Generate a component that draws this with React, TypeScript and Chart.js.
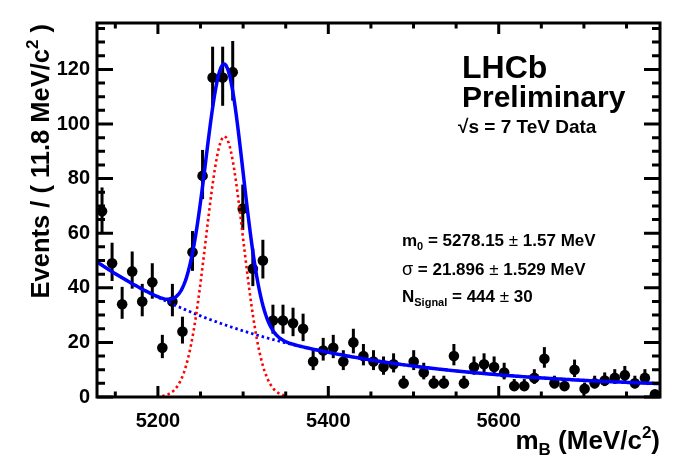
import React, { useEffect, useRef } from "react";
import { Chart, registerables } from "chart.js";

Chart.register(...registerables);

// ---------------- data ----------------
const X_MIN = 5128.5;
const X_MAX = 5789.3;
const BIN_WIDTH = 11.8;
const Y_MAX = 137;

const COUNTS = [
  68, 49, 34, 46, 35, 42, 18, 35, 24, 53,
  81, 117, 117, 119, 69, 47, 50, 28, 28, 27,
  25, 13, 17, 18, 13, 20, 15, 13, 11, 12,
  5, 13, 9, 5, 5, 15, 5, 11, 12, 11,
  9, 4, 4, 7, 14, 5, 4, 10, 3, 5,
  6, 7, 8, 5, 7, 1,
];

const X_TICKS = [5200, 5400, 5600];
const Y_TICKS = [0, 20, 40, 60, 80, 100, 120];

// fit parameters (signal values shown on the plot, background)
const M0 = 5278.15;
const SIGMA = 21.896;
const N_SIGNAL = 444;
const BKG_CONST = 2.5; // events / bin
const BKG_AMP = 47; // events / bin at X_MIN
const BKG_SLOPE = -0.0045; // 1/MeV

const FONT = "'Liberation Sans', Arial, Helvetica, sans-serif";

// ---------------- helpers ----------------
const binCenters = COUNTS.map((_, i) => X_MIN + (i + 0.5) * BIN_WIDTH);
const points = COUNTS.map((c, i) => ({ x: binCenters[i], y: c }));

const sig = (m: number) =>
  ((N_SIGNAL * BIN_WIDTH) / (Math.sqrt(2 * Math.PI) * SIGMA)) *
  Math.exp(-0.5 * ((m - M0) / SIGMA) ** 2);
const bkg = (m: number) => BKG_CONST + BKG_AMP * Math.exp(BKG_SLOPE * (m - X_MIN));

const curveX: number[] = [];
for (let m = X_MIN; m <= X_MAX + 0.01; m += 1.5) curveX.push(m);
const totalCurve = curveX.map((m) => ({ x: m, y: sig(m) + bkg(m) }));
const bkgCurve = curveX.map((m) => ({ x: m, y: bkg(m) }));
const sigCurve = curveX
  .filter((m) => Math.abs(m - M0) < 3.4 * SIGMA)
  .map((m) => ({ x: m, y: sig(m) }));

type Seg = { t: string; size: number; dy?: number; bold?: boolean };

function drawRich(
  ctx: CanvasRenderingContext2D,
  x: number,
  y: number,
  segs: Seg[],
  align: "left" | "right" = "left"
) {
  const fontOf = (s: Seg) =>
    `${s.bold === false ? "" : "bold "}${s.size}px ${FONT}`;
  let w = 0;
  for (const s of segs) {
    ctx.font = fontOf(s);
    w += ctx.measureText(s.t).width;
  }
  let cx = align === "right" ? x - w : x;
  ctx.textAlign = "left";
  ctx.textBaseline = "alphabetic";
  for (const s of segs) {
    ctx.font = fontOf(s);
    ctx.fillText(s.t, cx, y + (s.dy || 0));
    cx += ctx.measureText(s.t).width;
  }
}

const errUp = (n: number) => Math.sqrt(n + 0.25) + 0.5;
const errDown = (n: number) => Math.max(0, Math.sqrt(n + 0.25) - 0.5);

const errorBarPlugin = {
  id: "errorBars",
  beforeDatasetsDraw(chart: any) {
    const { ctx, scales } = chart;
    const xs = scales.x;
    const ys = scales.y;
    ctx.save();
    ctx.strokeStyle = "#000";
    ctx.lineWidth = 3;
    for (const p of points) {
      const px = xs.getPixelForValue(p.x);
      const y1 = ys.getPixelForValue(p.y + errUp(p.y));
      const y2 = ys.getPixelForValue(p.y - errDown(p.y));
      ctx.beginPath();
      ctx.moveTo(px, y1);
      ctx.lineTo(px, y2);
      ctx.stroke();
    }
    ctx.restore();
  },
};

const framePlugin = {
  id: "frame",
  afterDraw(chart: any) {
    const { ctx, chartArea, scales } = chart;
    const { left, right, top, bottom } = chartArea;
    const xs = scales.x;
    const ys = scales.y;
    ctx.save();
    ctx.strokeStyle = "#000";
    ctx.fillStyle = "#000";
    ctx.lineWidth = 3;
    ctx.lineCap = "butt";
    // ticks x
    for (let v = 5150; v <= 5780; v += 50) {
      const px = xs.getPixelForValue(v);
      const len = v % 200 === 0 ? 11 : 5.5;
      ctx.beginPath();
      ctx.moveTo(px, bottom);
      ctx.lineTo(px, bottom - len);
      ctx.moveTo(px, top);
      ctx.lineTo(px, top + len);
      ctx.stroke();
    }
    // ticks y
    for (let v = 0; v <= Y_MAX; v += 5) {
      const py = ys.getPixelForValue(v);
      const len = v % 20 === 0 ? 16 : 8;
      ctx.beginPath();
      ctx.moveTo(left, py);
      ctx.lineTo(left + len, py);
      ctx.moveTo(right, py);
      ctx.lineTo(right - len, py);
      ctx.stroke();
    }
    ctx.strokeRect(left, top, right - left, bottom - top);

    // axis titles
    drawRich(ctx, 660, 449, [
      { t: "m", size: 26 },
      { t: "B", size: 17, dy: 6 },
      { t: " (MeV/c", size: 26 },
      { t: "2", size: 17, dy: -11 },
      { t: ")", size: 26 },
    ], "right");

    ctx.save();
    ctx.translate(49, 24);
    ctx.rotate(-Math.PI / 2);
    drawRich(ctx, 0, 0, [
      { t: "Events / ( 11.8 MeV/c", size: 25.5 },
      { t: "2", size: 17, dy: -11 },
      { t: " )", size: 25.5 },
    ], "right");
    ctx.restore();

    // labels
    drawRich(ctx, 462, 78, [{ t: "LHCb", size: 32 }]);
    drawRich(ctx, 462, 107, [{ t: "Preliminary", size: 30 }]);
    drawRich(ctx, 458, 133, [
      { t: "\u221As", size: 19 },
      { t: " = 7 TeV Data", size: 19 },
    ]);

    drawRich(ctx, 402, 246, [
      { t: "m", size: 17 },
      { t: "0", size: 11, dy: 4 },
      { t: " = 5278.15 ", size: 17 },
      { t: "\u00B1", size: 17, bold: false },
      { t: " 1.57 MeV", size: 17 },
    ]);
    drawRich(ctx, 402, 275, [
      { t: "\u03C3", size: 18, bold: false },
      { t: " = 21.896 ", size: 17 },
      { t: "\u00B1", size: 17, bold: false },
      { t: " 1.529 MeV", size: 17 },
    ]);
    drawRich(ctx, 402, 302, [
      { t: "N", size: 17 },
      { t: "Signal", size: 11, dy: 4 },
      { t: " = 444 ", size: 17 },
      { t: "\u00B1", size: 17, bold: false },
      { t: " 30", size: 17 },
    ]);
    ctx.restore();
  },
};

export default function App() {
  const ref = useRef<HTMLCanvasElement | null>(null);

  useEffect(() => {
    if (!ref.current) return;
    const chart = new Chart(ref.current, {
      type: "scatter",
      data: {
        datasets: [
          {
            type: "line",
            data: totalCurve,
            borderColor: "#0000ff",
            borderWidth: 3.5,
            pointRadius: 0,
            fill: false,
            order: 0,
          } as any,
          {
            type: "line",
            data: sigCurve,
            borderColor: "#ff0000",
            borderWidth: 2.6,
            borderDash: [2.5, 3],
            pointRadius: 0,
            fill: false,
            order: 1,
          } as any,
          {
            type: "line",
            data: bkgCurve,
            borderColor: "#0000ff",
            borderWidth: 2.8,
            borderDash: [2.5, 3],
            pointRadius: 0,
            fill: false,
            order: 2,
          } as any,
          {
            type: "scatter",
            data: points,
            backgroundColor: "#000",
            borderColor: "#000",
            borderWidth: 0,
            pointRadius: 5.3,
            order: 3,
          } as any,
        ],
      },
      options: {
        animation: false,
        responsive: false,
        devicePixelRatio: 1,
        layout: { padding: { left: 0, right: 36, top: 23, bottom: 0 } },
        plugins: { legend: { display: false }, tooltip: { enabled: false } },
        scales: {
          x: {
            type: "linear",
            min: X_MIN,
            max: X_MAX,
            afterBuildTicks: (s: any) => {
              s.ticks = X_TICKS.map((v) => ({ value: v }));
            },
            afterFit: (s: any) => {
              s.height = 75;
            },
            grid: { display: false, drawTicks: false },
            border: { display: false },
            ticks: {
              color: "#000",
              padding: 12,
              maxRotation: 0,
              autoSkip: false,
              font: { family: FONT, size: 20, weight: "bold" },
              callback: (v: any) => String(v),
            },
          },
          y: {
            type: "linear",
            min: 0,
            max: Y_MAX,
            afterBuildTicks: (s: any) => {
              s.ticks = Y_TICKS.map((v) => ({ value: v }));
            },
            afterFit: (s: any) => {
              s.width = 97;
            },
            grid: { display: false, drawTicks: false },
            border: { display: false },
            ticks: {
              color: "#000",
              padding: 7,
              autoSkip: false,
              font: { family: FONT, size: 20, weight: "bold" },
              callback: (v: any) => String(v),
            },
          },
        },
      } as any,
      plugins: [errorBarPlugin, framePlugin],
    });
    return () => chart.destroy();
  }, []);

  return (
    <div style={{ position: "absolute", left: 0, top: 0, width: 696, height: 472, background: "#fff" }}>
      <canvas ref={ref} width={696} height={472} style={{ width: 696, height: 472, display: "block" }} />
    </div>
  );
}
